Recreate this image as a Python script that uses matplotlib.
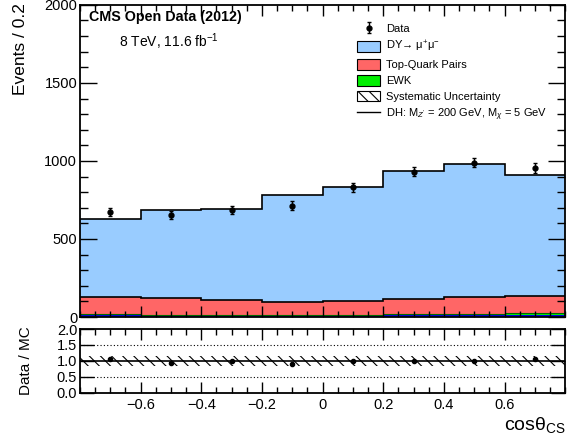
import numpy as np
import matplotlib
matplotlib.use("Agg")
import matplotlib.pyplot as plt
from matplotlib.patches import Patch
from matplotlib.lines import Line2D
from matplotlib.ticker import MultipleLocator, FixedLocator

plt.rcParams['font.family'] = ['Liberation Sans', 'DejaVu Sans']
plt.rcParams['mathtext.fontset'] = 'custom'
plt.rcParams['mathtext.rm'] = 'Liberation Sans'
plt.rcParams['mathtext.it'] = 'Liberation Sans:italic'
plt.rcParams['hatch.linewidth'] = 0.8

# ---- data ----
bin_edges = [-0.8, -0.6, -0.4, -0.2, 0.0, 0.2, 0.4, 0.6, 0.8]
other_vals = [12, 12, 12, 12, 12, 12, 12, 12]
ewk_vals = [10, 4, 4, 4, 4, 5, 6, 16]
ttbar_vals = [104, 104, 91, 82, 84, 96, 108, 105]
dy_vals = [502, 568, 585, 686, 733, 823, 853, 777]
data_vals = [675, 652, 688, 714, 833, 932, 990, 953]
syst_rel = [0.15, 0.15, 0.15, 0.15, 0.15, 0.15, 0.15, 0.15]
xticklabels = ['−0.6', '−0.4', '−0.2', '0', '0.2', '0.4', '0.6']
xtickpos = [-0.6, -0.4, -0.2, 0.0, 0.2, 0.4, 0.6]

edges = np.array(bin_edges)
centers = 0.5 * (edges[:-1] + edges[1:])
other = np.array(other_vals, float)
ewk = np.array(ewk_vals, float)
tt = np.array(ttbar_vals, float)
dy = np.array(dy_vals, float)
data = np.array(data_vals, float)
syst = np.array(syst_rel)

fig = plt.figure(figsize=(5.75, 4.44), dpi=100)
ax = fig.add_axes([0.139, 0.286, 0.844, 0.703])
axr = fig.add_axes([0.139, 0.115, 0.844, 0.144])

c1 = other
c2 = c1 + ewk
c3 = c2 + tt
c4 = c3 + dy

ax.stairs(c4, edges, baseline=c3, fill=True, color='#99ccff', lw=0)
ax.stairs(c3, edges, baseline=c2, fill=True, color='#ff6666', lw=0)
ax.stairs(c2, edges, baseline=c1, fill=True, color='#00ee00', lw=0)
ax.stairs(c1, edges, baseline=0, fill=True, color='#0000dd', lw=0)
ax.stairs(c4, edges, color='black', lw=1.2, baseline=None)
ax.stairs(c3, edges, color='black', lw=1.2, baseline=None)
ax.stairs(c2, edges, color='#006600', lw=0.8, baseline=None)

data_eb = ax.errorbar(centers, data, yerr=np.sqrt(data), fmt='o', color='black',
                      ms=3.5, capsize=1.5, elinewidth=1.0, capthick=1.0, zorder=5)

ax.set_xlim(-0.8, 0.8)
ax.set_ylim(0, 2000)
ax.set_yticks([0, 500, 1000, 1500, 2000])
ax.yaxis.set_minor_locator(MultipleLocator(100))
ax.xaxis.set_major_locator(FixedLocator(xtickpos))
ax.xaxis.set_minor_locator(MultipleLocator(0.05))
ax.set_xticklabels([])
ax.tick_params(axis='both', which='both', direction='in', top=True, right=True,
               labelsize=10.5, width=1.0)
ax.tick_params(axis='y', which='major', length=12, pad=2)
ax.tick_params(axis='y', which='minor', length=6)
ax.tick_params(axis='x', which='major', length=8)
ax.tick_params(axis='x', which='minor', length=4)
for s in ax.spines.values():
    s.set_linewidth(1.3)
ax.set_ylabel('Events / 0.2', fontsize=12.5)
ax.yaxis.set_label_coords(-0.108, 0.86)

ax.text(0.018, 0.962, 'CMS Open Data (2012)', transform=ax.transAxes,
        fontsize=10.3, fontweight='bold', va='center', ha='left')
ax.text(0.08, 0.883, '8 TeV, 11.6 fb$^{-1}$', transform=ax.transAxes,
        fontsize=10, va='center', ha='left')

handles = [
    data_eb,
    Patch(facecolor='#99ccff', edgecolor='black', lw=0.8),
    Patch(facecolor='#ff6666', edgecolor='black', lw=0.8),
    Patch(facecolor='#00ee00', edgecolor='black', lw=0.8),
    Patch(facecolor='white', edgecolor='black', hatch='\\\\\\', lw=0.8),
    Line2D([], [], color='black', lw=1.0),
]
labels = ['Data', 'DY→ μ$^{+}$μ$^{-}$', 'Top-Quark Pairs', 'EWK',
          'Systematic Uncertainty', "DH: M$_{Z'}$ = 200 GeV, M$_{\\chi}$ = 5 GeV"]
leg = ax.legend(handles, labels, loc='upper left', bbox_to_anchor=(0.562, 0.955),
                frameon=False, fontsize=8, handlelength=2.1, handleheight=1.1,
                handletextpad=0.5, labelspacing=0.42, borderaxespad=0)

# ---- ratio ----
ratio = data / c4
rerr = np.sqrt(data) / c4
axr.stairs(1 + syst, edges, baseline=1 - syst, fill=True, facecolor='none',
           edgecolor='black', hatch='\\\\\\', lw=0)
axr.stairs(np.ones_like(ratio), edges, color='black', lw=1.2, baseline=None)
axr.errorbar(centers, ratio, yerr=rerr, fmt='o', color='black', ms=3,
             capsize=0, elinewidth=0.8, zorder=5)
axr.axhline(0.5, color='black', ls=(0, (1, 2)), lw=0.8)
axr.axhline(1.5, color='black', ls=(0, (1, 2)), lw=0.8)
axr.set_xlim(-0.8, 0.8)
axr.set_ylim(0, 2.0)
axr.set_yticks([0.0, 0.5, 1.0, 1.5, 2.0])
axr.set_yticklabels(['0.0', '0.5', '1.0', '1.5', '2.0'])
axr.xaxis.set_major_locator(FixedLocator(xtickpos))
axr.set_xticklabels(xticklabels)
axr.xaxis.set_minor_locator(MultipleLocator(0.05))
axr.tick_params(axis='both', which='both', direction='in', top=True, right=True,
                labelsize=10.5, width=1.0)
axr.tick_params(axis='y', which='major', length=10, pad=2)
axr.tick_params(axis='x', which='major', length=8, pad=4)
axr.tick_params(axis='x', which='minor', length=4)
for s in axr.spines.values():
    s.set_linewidth(1.3)
axr.set_ylabel('Data / MC', fontsize=11)
axr.yaxis.set_label_coords(-0.097, 0.5)
axr.set_xlabel('cosθ$_{\\mathrm{CS}}$', fontsize=14, loc='right', labelpad=2)

fig.savefig('out.png', dpi=100)
